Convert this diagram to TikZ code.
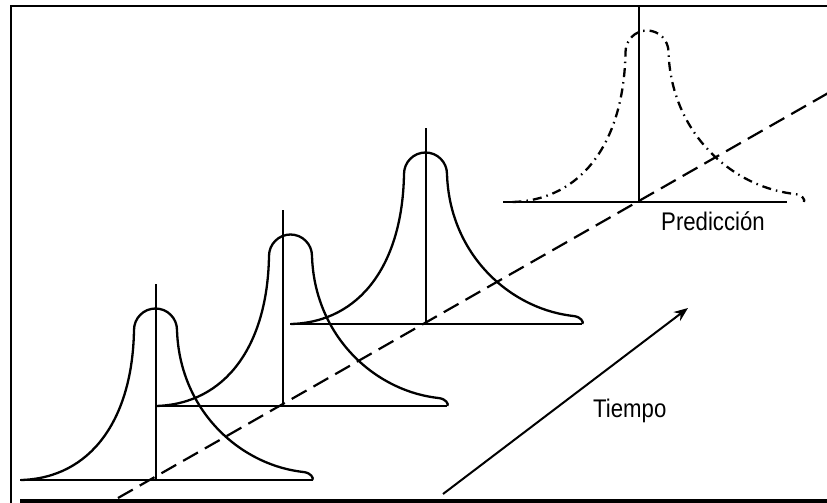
\documentclass[tikz,border=0pt]{standalone}
\usepackage{fontspec}
\setmainfont{Liberation Sans}[FakeStretch=0.87]
\usepackage{tikz}
\usetikzlibrary{arrows.meta,calc}
\tikzset{
  >={Stealth[length=14pt,width=11pt]},
  curva/.style={line width=2.3pt},
  curvap/.style={curva,dash pattern=on 9pt off 5pt on 1.5pt off 5pt},
  eje/.style={line width=2.3pt},
  guia/.style={line width=2.2pt,dash pattern=on 17pt off 8pt},
  flecha/.style={->,line width=2pt},
  etiq/.style={font=\fontsize{25.5}{30}\selectfont,inner sep=0pt,anchor=base west},
  marco/.style={line width=2pt},
}
% bell: [style]{cap centre x}{axis x}{base y}{name}
\newcommand{\campana}[5][curva]{%
  \coordinate (#5) at (#3,#4);
  \draw[#1] ({#2-134.5},#4) .. controls ({#2-65},{#4-2}) and ({#2-23},{#4-60}) .. ({#2-21.5},{#4-150})
    arc[start angle=180,end angle=360,radius=21.5]
    .. controls ({#2+24},{#4-70}) and ({#2+84},{#4-15}) .. ({#2+148},{#4-8})
    .. controls ({#2+156},{#4-7}) and ({#2+158},{#4-2}) .. ({#2+157},#4);
  \draw[eje] (#5) -- ++(0,-196);
}

\begin{document}
\begin{tikzpicture}[x=1pt,y=-1pt]
  \useasboundingbox (0,0) rectangle (827,503);
  % frame
  \draw[marco] (11,503) -- (11,6) -- (827,6);
  \draw[line width=4pt] (20,501) -- (827,501);
  % baselines
  \draw[eje] (20,480) -- (313,480);
  \draw[eje] (156,406) -- (447,406);
  \draw[eje] (290,324) -- (582,324);
  \draw[eje] (503,202) -- (787,202);
  % bells
  \campana{155.5}{156}{480}{b1}
  \campana{290.5}{283}{406}{b2}
  \campana{425.5}{426}{324}{b3}
  \campana[curvap]{647}{639}{202}{b4}
  % trend
  \coordinate (g0) at (118,498);
  \coordinate (g1) at (830,92);
  \draw[guia] (g0) -- (g1);
  % time arrow
  \coordinate (t0) at (443,494);
  \coordinate (t1) at (688,308);
  \draw[flecha] (t0) -- (t1);
  \node[etiq] (pred) at (661,230) {Predicción};
  \node[etiq] (tiempo) at (593,417) {Tiempo};
\end{tikzpicture}
\end{document}
